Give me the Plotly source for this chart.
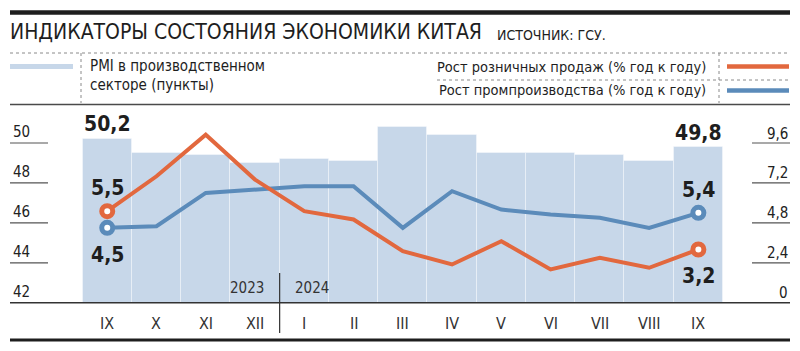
import plotly.graph_objects as go

months = ["IX", "X", "XI", "XII", "I", "II", "III", "IV", "V", "VI", "VII", "VIII", "IX"]
pmi = [50.2, 49.5, 49.4, 49.0, 49.2, 49.1, 50.8, 50.4, 49.5, 49.5, 49.4, 49.1, 49.8]
retail = [5.5, 7.6, 10.1, 7.4, 5.5, 5.0, 3.1, 2.3, 3.7, 2.0, 2.7, 2.1, 3.2]
industry = [4.5, 4.6, 6.6, 6.8, 7.0, 7.0, 4.5, 6.7, 5.6, 5.3, 5.1, 4.5, 5.4]
left_ticks = [42, 44, 46, 48, 50]
right_ticks = [0, 2.4, 4.8, 7.2, 9.6]
right_labels = ["0", "2,4", "4,8", "7,2", "9,6"]

W, H = 800, 351
FONT = "DejaVu Sans Condensed, Liberation Sans Narrow, Roboto, sans-serif"
ORANGE = "#e2683e"
BLUE = "#5b8bba"
BARC = "#c7d7e9"
DARK = "#1e1e1e"

def px(x):
    return x / W

def py(y):
    return 1 - y / H

x = list(range(len(months)))
plot_top, plot_bot = 110, 302.7
ppu_left = (plot_bot - 143) / 8
ppu_right = (plot_bot - 143) / 9.6
y_range = [42, 42 + (plot_bot - plot_top) / ppu_left]
y2_range = [0, (plot_bot - plot_top) / ppu_right]
bar_px = (723 - 82.6) / 13
x_range = [-0.5 - (82.6 - 10) / bar_px, 12.5 + (790 - 723) / bar_px]

fig = go.Figure()
fig.add_trace(go.Bar(x=x, y=pmi, width=1, marker=dict(color=BARC, line=dict(color="rgba(255,255,255,0.35)", width=1)),
                     yaxis="y", showlegend=False, hoverinfo="skip"))
fig.add_trace(go.Scatter(x=x, y=industry, mode="lines", line=dict(color=BLUE, width=4), yaxis="y2", showlegend=False))
fig.add_trace(go.Scatter(x=x, y=retail, mode="lines", line=dict(color=ORANGE, width=4), yaxis="y2", showlegend=False))
ends = [0, len(x) - 1]
fig.add_trace(go.Scatter(x=ends, y=[industry[i] for i in ends], mode="markers", yaxis="y2", showlegend=False,
                         marker=dict(size=11, color="white", line=dict(color=BLUE, width=5))))
fig.add_trace(go.Scatter(x=ends, y=[retail[i] for i in ends], mode="markers", yaxis="y2", showlegend=False,
                         marker=dict(size=11, color="white", line=dict(color=ORANGE, width=5))))

shapes = []
ann = []

def hline(y, x0, x1, color, width, dash="solid"):
    shapes.append(dict(type="line", xref="paper", yref="paper", x0=px(x0), x1=px(x1), y0=py(y), y1=py(y),
                       line=dict(color=color, width=width, dash=dash)))

def vline(xx, y0, y1, color, width, dash="solid"):
    shapes.append(dict(type="line", xref="paper", yref="paper", x0=px(xx), x1=px(xx), y0=py(y0), y1=py(y1),
                       line=dict(color=color, width=width, dash=dash)))

def text(t, xx, yy, size, xanchor="left", color=DARK, bold=False):
    if bold:
        t = "<b>" + t + "</b>"
    ann.append(dict(text=t, x=px(xx), y=py(yy), xref="paper", yref="paper", xanchor=xanchor, yanchor="middle",
                    showarrow=False, font=dict(family=FONT, size=size, color=color)))

# header
hline(12.5, 10, 790, DARK, 4.5)
text("ИНДИКАТОРЫ СОСТОЯНИЯ ЭКОНОМИКИ КИТАЯ", 8, 32, 21)
text("ИСТОЧНИК: ГСУ.", 495, 35, 14)
hline(53, 10, 790, "#8a8a8a", 1, "dot")
# legend
hline(66.5, 10, 73, BARC, 5)
vline(81, 53, 103, "#8a8a8a", 1, "dot")
text("PMI в производственном", 88, 66, 15)
text("секторе (пункты)", 88, 85, 15)
text("Рост розничных продаж (% год к году)", 708, 67, 14.5, xanchor="right")
text("Рост промпроизводства (% год к году)", 708, 90, 14.5, xanchor="right")
hline(80, 437, 790, "#8a8a8a", 1, "dot")
vline(719, 53, 103, "#8a8a8a", 1, "dot")
hline(66.5, 727, 789, ORANGE, 4.5)
hline(90.5, 727, 789, BLUE, 4.5)
hline(104.5, 10, 790, "#4a4a4a", 1.5)

# axis ticks
for v in left_ticks:
    yy = plot_bot - (v - 42) * ppu_left
    if v != 42:
        hline(yy, 10, 48, "#555555", 1.2)
    text(str(v), 11, yy - 10.5, 15, color="#222")
for v, lab in zip(right_ticks, right_labels):
    yy = plot_bot - v * ppu_right
    if v != 0:
        hline(yy, 752, 790, "#555555", 1.2)
    text(lab, 790, yy - 9.5, 15, xanchor="right", color="#222")

# baseline & bottom
hline(plot_bot, 10, 790, "#333333", 1.5)
hline(340, 10, 790, DARK, 3)
sep = 82.6 + 4 * bar_px
vline(sep, 273, 333, "#333333", 1.2)
text("2023", sep - 14, 288, 15, xanchor="right", color="#333")
text("2024", sep + 13, 288, 15, xanchor="left", color="#333")

for i, m in enumerate(months):
    ann.append(dict(text=m, x=i, xref="x", y=py(323), yref="paper", showarrow=False, xanchor="center",
                    yanchor="middle", font=dict(family=FONT, size=16, color="#333")))

# value labels
def vlabel(t, xi, yv, yref, shift):
    ann.append(dict(text="<b>" + t + "</b>", x=xi, y=yv, xref="x", yref=yref, showarrow=False, xanchor="center",
                    yanchor="middle", yshift=shift, font=dict(family=FONT, size=21, color=DARK)))

fmt = lambda v: f"{v:.1f}".replace(".", ",")
vlabel(fmt(pmi[0]), 0, pmi[0], "y", 15)
vlabel(fmt(pmi[-1]), 12, pmi[-1], "y", 14)
vlabel(fmt(retail[0]), 0, retail[0], "y2", 23)
vlabel(fmt(industry[0]), 0, industry[0], "y2", -27)
vlabel(fmt(industry[-1]), 12, industry[-1], "y2", 23)
vlabel(fmt(retail[-1]), 12, retail[-1], "y2", -27)

fig.update_layout(
    width=W, height=H, margin=dict(l=0, r=0, t=0, b=0),
    paper_bgcolor="white", plot_bgcolor="rgba(0,0,0,0)",
    xaxis=dict(domain=[px(10), px(790)], range=x_range, showgrid=False, showticklabels=False, zeroline=False,
               showline=False, ticks=""),
    yaxis=dict(domain=[py(plot_bot), py(plot_top)], range=y_range, showgrid=False, showticklabels=False,
               zeroline=False, showline=False),
    yaxis2=dict(domain=[py(plot_bot), py(plot_top)], range=y2_range, overlaying="y", side="right", showgrid=False,
                showticklabels=False, zeroline=False, showline=False),
    shapes=shapes, annotations=ann, bargap=0, showlegend=False,
)
fig.write_html("out.html")
